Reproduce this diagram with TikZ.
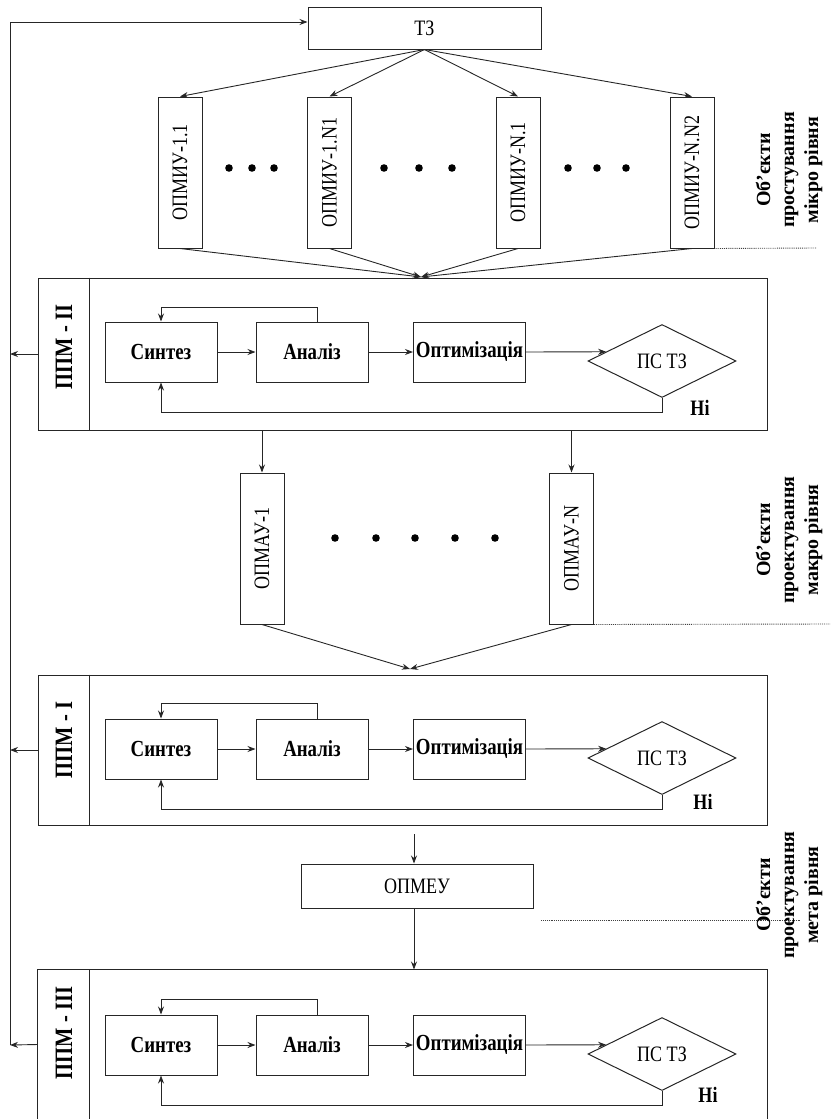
\documentclass[tikz,border=0pt]{standalone}
\usepackage{fontspec}
\usepackage{graphicx}
\setmainfont{Liberation Serif}
\newfontfamily\narrowfont[FakeStretch=0.82]{Liberation Serif}
\usetikzlibrary{arrows.meta,shapes.geometric,calc}

\tikzset{
  frame/.style={draw=black!85, line width=1pt, minimum width=729pt, minimum height=152pt, inner sep=0pt},
  frameline/.style={draw=black!85, line width=1pt},
  stage/.style={draw=black!85, line width=1pt, minimum width=112pt, minimum height=60pt, inner sep=0pt, font=\narrowfont\bfseries\fontsize{23}{26}\selectfont},
  check/.style={diamond, draw=black!85, line width=1pt, minimum width=148pt, minimum height=73pt, inner sep=0pt, font=\narrowfont\fontsize{22}{26}\selectfont},
  objv/.style={draw=black!85, line width=1pt, minimum width=44pt, minimum height=151pt, inner sep=0pt, font=\narrowfont\fontsize{22}{26}\selectfont},
  plainbox/.style={draw=black!85, line width=1pt, inner sep=0pt, font=\narrowfont\fontsize{22}{26}\selectfont},
  ppmlbl/.style={rotate=90, font=\narrowfont\bfseries\fontsize{25}{28}\selectfont},
  nolbl/.style={font=\narrowfont\bfseries\fontsize{22}{26}\selectfont},
  lvl/.style={rotate=90, align=center, font=\bfseries\fontsize{20}{24}\selectfont},
  conn/.style={-{Stealth[length=8pt,width=6pt]}, line width=0.9pt, black!85},
  sep/.style={densely dotted, line width=0.9pt, black!75}
}

\begin{document}
\begin{tikzpicture}[x=1pt, y=-1pt]
\useasboundingbox (0,0) rectangle (832,1119);

% technical task
\node [plainbox, minimum width=233pt, minimum height=42pt] (tz) at (424.5,28) {ТЗ};

% micro level objects
\node [objv] (mi1) at (180,172.5) {\rotatebox{90}{ОПМИУ-1.1}};
\node [objv] (mi2) at (329.5,172.5) {\rotatebox{90}{ОПМИУ-1.N1}};
\node [objv] (mi3) at (518,172.5) {\rotatebox{90}{ОПМИУ-N.1}};
\node [objv] (mi4) at (692,172.5) {\rotatebox{90}{ОПМИУ-N.N2}};
\foreach \x in {229,252,274,384,419,452,568,597,626}
  \fill (\x,168) circle (3.8);

\draw [conn] (tz.south) -- (mi1.north);
\draw [conn] (tz.south) -- (mi2.north);
\draw [conn] (tz.south) -- (mi3.north);
\draw [conn] (tz.south) -- (mi4.north);

\coordinate (in2) at (421,277);
\draw [conn] (mi1.south) -- (in2);
\draw [conn] (mi2.south) -- (in2);
\draw [conn] (mi3.south) -- (in2);
\draw [conn] (mi4.south) -- (in2);

\coordinate (d1) at (817,248);
\draw [sep] (mi4.south east) -- (d1);
\node [lvl] (lv1) at (789,170) {Об’єкти\\простування\\мікро рівня};

% PPM - II
\node [frame] (ppm2) at (402.5,354) {};
\draw [frameline] ([xshift=52pt]ppm2.north west) -- ([xshift=52pt]ppm2.south west);
\node [ppmlbl] (ppm2l) at (64,347) {ППМ - II};
\node [stage] (syn2) at (161,352) {Синтез};
\node [stage] (an2) at (312,352) {Аналіз};
\node [stage] (opt2) at (469.5,352) {Оптимізація};
\node [check] (chk2) at (662,361) {ПС ТЗ};
\node [nolbl] (no2) at (700,408) {Ні};
\draw [conn] (syn2) -- (an2);
\draw [conn] (an2) -- (opt2);
\draw [conn] (opt2.east) -- ($(chk2.west)!0.25!(chk2.north)$);
\draw [conn] ([xshift=5pt]an2.north) -- ++(0,-14) -| (syn2.north);
\draw [conn] (chk2.south) -- ++(0,14) -| (syn2.south);

% macro level objects
\node [objv] (ma1) at (262,548.5) {\rotatebox{90}{ОПМАУ-1}};
\node [objv] (maN) at (571.5,548.5) {\rotatebox{90}{ОПМАУ-N}};
\foreach \x in {335,376,415,455,495}
  \fill (\x,538) circle (3.8);
\draw [conn] (ma1.north |- ppm2.south) -- (ma1.north);
\draw [conn] (maN.north |- ppm2.south) -- (maN.north);

\coordinate (in1) at (410,669);
\draw [conn] (ma1.south) -- (in1);
\draw [conn] (maN.south) -- (in1);

\coordinate (d2) at (830,624);
\draw [sep] (maN.south east) -- (d2);
\node [lvl] (lv2) at (789,540) {Об’єкти\\проектування\\макро рівня};

% PPM - I
\node [frame, minimum height=150pt] (ppm1) at (402.5,750) {};
\draw [frameline] ([xshift=52pt]ppm1.north west) -- ([xshift=52pt]ppm1.south west);
\node [ppmlbl] (ppm1l) at (64,740) {ППМ - I};
\node [stage] (syn1) at (161,749) {Синтез};
\node [stage] (an1) at (312,749) {Аналіз};
\node [stage] (opt1) at (469.5,749) {Оптимізація};
\node [check] (chk1) at (662,758) {ПС ТЗ};
\node [nolbl] (no1) at (703,802) {Ні};
\draw [conn] (syn1) -- (an1);
\draw [conn] (an1) -- (opt1);
\draw [conn] (opt1.east) -- ($(chk1.west)!0.25!(chk1.north)$);
\draw [conn] ([xshift=5pt]an1.north) -- ++(0,-15) -| (syn1.north);
\draw [conn] (chk1.south) -- ++(0,14.5) -| (syn1.south);

% meta level object
\node [plainbox, minimum width=232pt, minimum height=44pt] (meu) at (417,886) {ОПМЕУ};
\coordinate (out1) at (414,834);
\draw [conn] (out1) -- (out1 |- meu.north);
\draw [sep] (541,920) -- (800,920);
\node [lvl] (lv3) at (789,895) {Об’єкти\\проектування\\мета рівня};

% PPM - III
\node [frame, draw=none, minimum height=149pt] (ppm3) at (402.5,1044.5) {};
\draw [frameline] (ppm3.south west) |- (ppm3.north east) -- (ppm3.south east);
\draw [frameline] ([xshift=52pt]ppm3.north west) -- ([xshift=52pt]ppm3.south west);
\draw [conn] (meu.south -| out1) -- (out1 |- ppm3.north);
\node [ppmlbl] (ppm3l) at (64,1033) {ППМ - III};
\node [stage] (syn3) at (161,1045) {Синтез};
\node [stage] (an3) at (312,1045) {Аналіз};
\node [stage] (opt3) at (469.5,1045) {Оптимізація};
\node [check] (chk3) at (662,1054) {ПС ТЗ};
\node [nolbl] (no3) at (708,1095) {Ні};
\draw [conn] (syn3) -- (an3);
\draw [conn] (an3) -- (opt3);
\draw [conn] (opt3.east) -- ($(chk3.west)!0.25!(chk3.north)$);
\draw [conn] ([xshift=5pt]an3.north) -- ++(0,-15) -| (syn3.north);
\draw [conn] (chk3.south) -- ++(0,14.5) -| (syn3.south);

% feedback to the technical task
\coordinate (fb) at (10,1045);
\draw [conn] (ppm3.west) -- (fb);
\draw [conn] (ppm2.west) -- (ppm2.west -| fb);
\draw [conn] (ppm1.west) -- (ppm1.west -| fb);
\draw [conn] (fb) |- ([yshift=6pt]tz.west);

\end{tikzpicture}
\end{document}
